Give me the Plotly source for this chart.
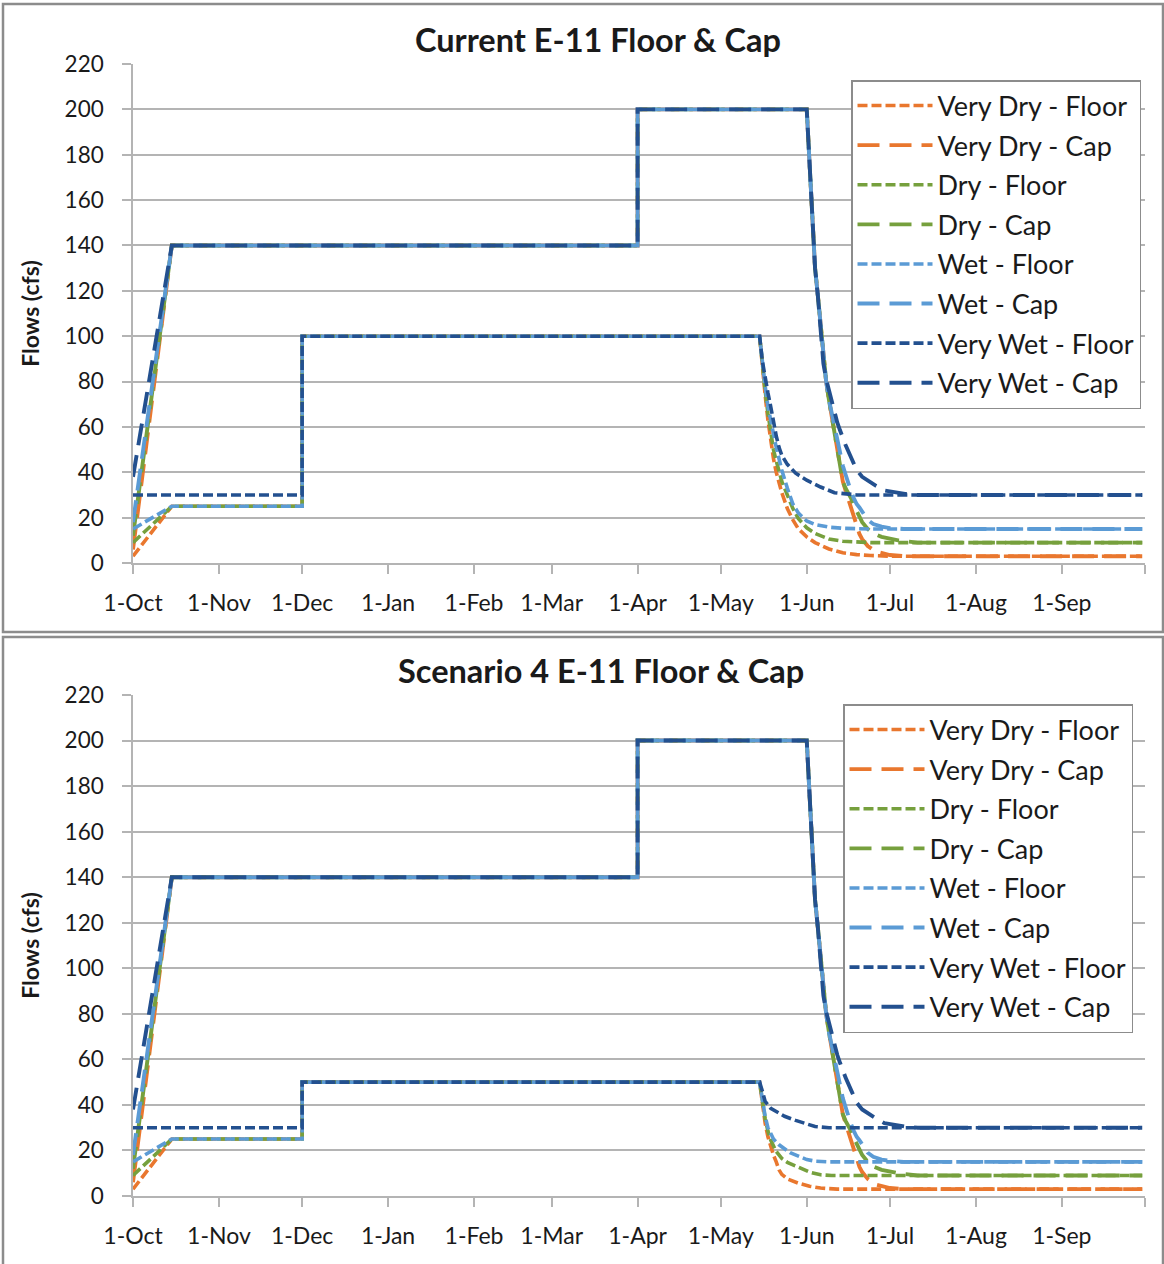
import pandas as pd
import plotly.graph_objects as go

# ---------------- data (days since 1-Oct, values in cfs) ----------------
START = "2013-10-01"
series_names = ["Very Dry - Floor", "Very Dry - Cap", "Dry - Floor", "Dry - Cap",
                "Wet - Floor", "Wet - Cap", "Very Wet - Floor", "Very Wet - Cap"]

# Caps (same in both charts)
vd_cap_days = [0, 14, 182, 182, 243, 244, 245, 246, 247, 248, 249, 250, 251, 252, 253, 254, 255, 256,
               257, 258, 259, 260, 261, 262, 263, 265, 268, 273, 278, 364]
vd_cap_vals = [6, 140, 140, 200, 200, 177, 148, 130, 118, 105, 90, 80, 72, 65, 58, 50, 42, 36,
               32, 28, 23.5, 20, 16, 12.8, 10.5, 7.5, 5, 3.5, 3, 3]
d_cap_days = [0, 14, 182, 182, 243, 244, 245, 246, 247, 248, 249, 250, 251, 252, 253, 254, 255, 256,
              257, 258, 259, 260, 261, 262, 263, 265, 267, 270, 276, 283, 364]
d_cap_vals = [12, 140, 140, 200, 200, 177, 148, 130, 118, 105, 90, 80, 72, 65, 58, 50, 42, 36,
              33, 31, 28.5, 25.5, 22.5, 20.5, 18, 15, 13, 11.5, 10, 9, 9]
w_cap_days = [0, 14, 182, 182, 243, 244, 245, 246, 247, 248, 249, 250, 251, 252, 253, 254, 255, 256,
              257, 258, 259, 260, 261, 262, 263, 265, 267, 270, 273, 278, 364]
w_cap_vals = [18, 140, 140, 200, 200, 177, 148, 130, 118, 105, 90, 80, 72, 66, 60, 54, 48, 43,
              39, 35, 31.5, 28.5, 26, 24.5, 22.5, 19, 17.2, 16, 15.4, 15, 15]
vw_cap_days = [0, 14, 182, 182, 243, 244, 245, 246, 247, 248, 249, 250, 251, 252, 253, 254, 255, 256,
               257, 259, 261, 263, 265, 268, 271, 275, 279, 283, 364]
vw_cap_vals = [38, 140, 140, 200, 200, 177, 148, 130, 118, 105, 88, 81, 76, 71, 67, 62, 58.5, 55,
               52, 46.5, 41, 38, 36.3, 34, 32, 31, 30.4, 30, 30]

# Floors - Current
cur_vd_floor_days = [0, 14, 61, 61, 226, 227, 228, 229, 230, 231, 232, 233, 234, 236, 238, 240, 243,
                     246, 251, 256, 261, 266, 273, 364]
cur_vd_floor_vals = [3, 25, 25, 100, 100, 86, 74, 63, 54, 46, 40, 35, 31, 24, 19, 15, 11.5,
                     9, 6.2, 4.5, 3.7, 3.3, 3, 3]
cur_d_floor_days = [0, 14, 61, 61, 226, 227, 228, 229, 230, 231, 232, 233, 234, 236, 238, 240, 243,
                    246, 251, 256, 266, 364]
cur_d_floor_vals = [9, 25, 25, 100, 100, 87, 76, 66, 57, 50, 45, 40, 36, 30, 24, 19.5, 15.5,
                    13, 10.6, 9.6, 9, 9]
cur_w_floor_days = [0, 14, 61, 61, 226, 227, 228, 229, 230, 231, 232, 233, 234, 236, 238, 240, 243,
                    246, 251, 256, 266, 364]
cur_w_floor_vals = [15, 25, 25, 100, 100, 88, 78, 69, 62, 57, 51, 46, 41, 33, 26, 22, 18.5,
                    17, 15.8, 15.3, 15, 15]
cur_vw_floor_days = [0, 61, 61, 226, 227, 228, 229, 230, 231, 232, 233, 234, 236, 239, 243, 248,
                     253, 261, 364]
cur_vw_floor_vals = [30, 30, 100, 100, 89, 81, 75, 69, 62, 56, 51, 47.5, 43.5, 39.6, 36.5, 33.5,
                     31, 30, 30]

# Floors - Scenario 4
s4_vd_floor_days = [0, 14, 61, 61, 226, 227, 228, 229, 230, 231, 232, 233, 234, 236, 240, 244, 248, 254, 364]
s4_vd_floor_vals = [3, 25, 25, 50, 50, 40, 32, 26, 21.5, 18, 15, 11.5, 9.5, 7.5, 5.6, 4.3, 3.5, 3, 3]
s4_d_floor_days = [0, 14, 61, 61, 226, 227, 228, 229, 230, 232, 234, 236, 240, 244, 248, 252, 364]
s4_d_floor_vals = [9, 25, 25, 50, 50, 41, 34, 28.5, 24.6, 19.5, 16.5, 14.8, 12.5, 10.5, 9.3, 9, 9]
s4_w_floor_days = [0, 14, 61, 61, 226, 227, 228, 229, 231, 233, 235, 237, 240, 243, 246, 251, 364]
s4_w_floor_vals = [15, 25, 25, 50, 50, 42, 35, 30, 25, 22.5, 20.5, 19, 17.5, 16, 15.3, 15, 15]
s4_vw_floor_days = [0, 61, 61, 226, 227, 228, 230, 232, 235, 239, 243, 246, 251, 364]
s4_vw_floor_vals = [30, 30, 50, 50, 46, 41.5, 38.5, 37, 35, 33.2, 31.5, 30.5, 30, 30]

tick_dates = ["2013-10-01", "2013-11-01", "2013-12-01", "2014-01-01", "2014-02-01", "2014-03-01",
              "2014-04-01", "2014-05-01", "2014-06-01", "2014-07-01", "2014-08-01", "2014-09-01",
              "2014-10-01"]
tick_labels = ["1-Oct", "1-Nov", "1-Dec", "1-Jan", "1-Feb", "1-Mar", "1-Apr", "1-May", "1-Jun",
               "1-Jul", "1-Aug", "1-Sep", ""]
y_ticks = [0, 20, 40, 60, 80, 100, 120, 140, 160, 180, 200, 220]

titles = ["Current E-11 Floor & Cap", "Scenario 4 E-11 Floor & Cap"]
colors = ["#E9772E", "#E9772E", "#76A03D", "#76A03D", "#5B9BD5", "#5B9BD5", "#23508F", "#23508F"]
dashes = ["10px,4px", "22px,10px"] * 4
widths = [3.6, 3.9] * 4

charts = [
    [(cur_vd_floor_days, cur_vd_floor_vals), (vd_cap_days, vd_cap_vals),
     (cur_d_floor_days, cur_d_floor_vals), (d_cap_days, d_cap_vals),
     (cur_w_floor_days, cur_w_floor_vals), (w_cap_days, w_cap_vals),
     (cur_vw_floor_days, cur_vw_floor_vals), (vw_cap_days, vw_cap_vals)],
    [(s4_vd_floor_days, s4_vd_floor_vals), (vd_cap_days, vd_cap_vals),
     (s4_d_floor_days, s4_d_floor_vals), (d_cap_days, d_cap_vals),
     (s4_w_floor_days, s4_w_floor_vals), (w_cap_days, w_cap_vals),
     (s4_vw_floor_days, s4_vw_floor_vals), (vw_cap_days, vw_cap_vals)],
]

# ---------------- figure ----------------
W, H = 1164, 1264
FONT = "Lato, 'Open Sans', sans-serif"
TXT = "#1a1a1a"
base = pd.Timestamp(START)

fig = go.Figure()
for ci, chart in enumerate(charts):
    xa = "x" if ci == 0 else "x2"
    ya = "y" if ci == 0 else "y2"
    lg = "legend" if ci == 0 else "legend2"
    for si, (days, vals) in enumerate(chart):
        xs = base + pd.to_timedelta(days, unit="D")
        fig.add_trace(go.Scatter(
            x=xs, y=vals, mode="lines", name=series_names[si],
            legendgroup=f"c{ci}s{si}",
            line=dict(color=colors[si], width=widths[si], dash=dashes[si]),
            xaxis=xa, yaxis=ya, legend=lg, hoverinfo="skip"))

def px_x(p):
    return p / W

def px_y(p):
    return 1 - p / H

grid = "#B4B4B4"
axis_common = dict(showline=True, linecolor=grid, linewidth=1.5, ticks="outside",
                   ticklen=9, tickwidth=1.5, tickcolor=grid, mirror=False, automargin=False)

# plot areas in pixels
areas = [(133, 1145, 64, 563), (133, 1145, 695, 1196)]

layout = dict(template="none", width=W, height=H, margin=dict(l=0, r=0, t=0, b=0, pad=0),
              paper_bgcolor="white", plot_bgcolor="white", showlegend=True)
for ci, (xl, xr, yt, yb) in enumerate(areas):
    sfx = "" if ci == 0 else "2"
    layout["xaxis" + sfx] = dict(
        domain=[px_x(xl), px_x(xr)], anchor="y" + sfx, type="date",
        range=["2013-10-01", "2014-10-01"], tickvals=tick_dates, ticktext=tick_labels,
        showgrid=False, zeroline=False, ticklabelstandoff=10,
        tickfont=dict(family=FONT, size=23, color=TXT), **axis_common)
    layout["yaxis" + sfx] = dict(
        domain=[px_y(yb), px_y(yt)], anchor="x" + sfx, range=[0, 220],
        tickvals=y_ticks, showgrid=True, gridcolor=grid, gridwidth=1.5, zeroline=False,
        ticklabelstandoff=14, tickfont=dict(family=FONT, size=22.5, color=TXT),
        title=dict(text="Flows (cfs)", standoff=19,
                   font=dict(family=FONT, size=23, color=TXT, weight="bold")),
        **axis_common)

leg_common = dict(xanchor="left", yanchor="top", bgcolor="white", bordercolor="#8C8C8C",
                  borderwidth=1.5, font=dict(family=FONT, size=27, color=TXT),
                  itemwidth=75, tracegroupgap=1.5)
layout["legend"] = dict(x=px_x(851), y=px_y(80), **leg_common)
layout["legend2"] = dict(x=px_x(843), y=px_y(704), **leg_common)

fig.update_layout(**layout)

# chart titles
for (tx, ty), t in zip([(598, 40), (601, 670)], titles):
    fig.add_annotation(x=px_x(tx), y=px_y(ty), xref="paper", yref="paper", text=t,
                       showarrow=False, xanchor="center", yanchor="middle",
                       font=dict(family=FONT, size=32.5, color=TXT, weight="bold"))

# panel borders
for (y0, y1) in [(4, 632), (637, 1270)]:
    fig.add_shape(type="rect", xref="paper", yref="paper",
                  x0=px_x(3), x1=px_x(1163), y0=px_y(y1), y1=px_y(y0),
                  line=dict(color="#8C8C8C", width=2.5), fillcolor="rgba(0,0,0,0)", layer="below")

fig.write_html("out.html")
